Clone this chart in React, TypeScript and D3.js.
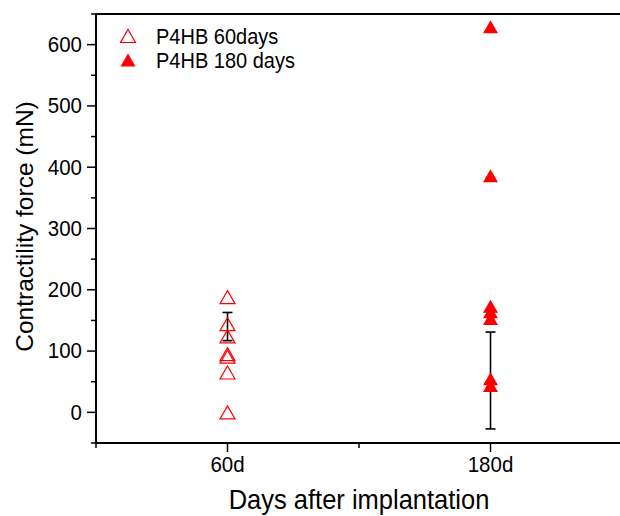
import React from 'react'
import * as d3 from 'd3'

// categories and values
const categories = ['60d', '180d']
const positions = [1, 2]
const values60 = [188, 144, 124, 95, 91, 65, 0]
const values180 = [629, 386, 173, 164, 153, 55, 44]
const means = [140, 52]
const errors = [23, 79]
const yMajorTicks = [0, 100, 200, 300, 400, 500, 600]
const yMinorTicks = [-50, 50, 150, 250, 350, 450, 550, 650]
const xMinorTicks = [0.5, 1.5, 2.5]
const legendLabels = ['P4HB 60days', 'P4HB 180 days']

const width = 620
const height = 516
const margin = { top: 14, left: 96, bottom: 73, right: -2 }
const font = 'Arial, "Liberation Sans", sans-serif'
const stretch = 1.1 // glyphs in the source are a bit taller than wide

// triangle centred on its bounding box, w x h px
const tri = (w: number, h: number) => `M0,${-h / 2}L${w / 2},${h / 2}L${-w / 2},${h / 2}Z`

const Label = ({ x, y, anchor = 'start', size, children }: any) => (
  <g transform={`translate(${x},${y}) scale(1,${stretch})`}>
    <text textAnchor={anchor} dominantBaseline="central" fontFamily={font} fontSize={size}>{children}</text>
  </g>
)

export default function App() {
  const x = d3.scaleLinear().domain([0.5, 2.5]).range([margin.left, width - margin.right])
  const y = d3.scaleLinear().domain([-50, 650]).range([height - margin.bottom, margin.top])
  const x0 = x(0.5)
  const y0 = y(-50)
  const marker = tri(15, 13)

  return (
    <svg width={width} height={height} style={{ position: 'absolute', left: 0, top: 0, background: '#fff' }}>
      {/* frame */}
      <line x1={x0} x2={width + 5} y1={y(650)} y2={y(650)} stroke="#000" strokeWidth={2} />
      <line x1={x0} x2={x0} y1={y(650) - 1} y2={y0 + 1} stroke="#000" strokeWidth={2} />
      <line x1={x0} x2={width + 5} y1={y0} y2={y0} stroke="#000" strokeWidth={2} />

      {/* y ticks */}
      {yMajorTicks.map(t => (
        <g key={'ym' + t}>
          <line x1={x0 - 9} x2={x0} y1={y(t)} y2={y(t)} stroke="#000" strokeWidth={1.5} />
          <Label x={x0 - 14} y={y(t)} anchor="end" size={20.5}>{t}</Label>
        </g>
      ))}
      {yMinorTicks.map(t => (
        <line key={'yn' + t} x1={x0 - 5} x2={x0} y1={y(t)} y2={y(t)} stroke="#000" strokeWidth={1.5} />
      ))}

      {/* x ticks */}
      {positions.map((p, i) => (
        <g key={'xm' + p}>
          <line x1={x(p)} x2={x(p)} y1={y0} y2={y0 + 9} stroke="#000" strokeWidth={1.5} />
          <Label x={x(p)} y={y0 + 22} anchor="middle" size={20.5}>{categories[i]}</Label>
        </g>
      ))}
      {xMinorTicks.map(t => (
        <line key={'xn' + t} x1={x(t)} x2={x(t)} y1={y0} y2={y0 + 5} stroke="#000" strokeWidth={1.5} />
      ))}

      {/* axis titles */}
      <Label x={(x(1) + x(2)) / 2} y={500} anchor="middle" size={25.5}>Days after implantation</Label>
      <text transform={`translate(33,${y(300) - 2}) rotate(-90)`} textAnchor="middle"
        fontFamily={font} fontSize={24.5}>Contractility force (mN)</text>

      {/* error bars */}
      {positions.map((p, i) => {
        const lo = y(means[i] - errors[i])
        const hi = y(means[i] + errors[i])
        return (
          <g key={'e' + p} stroke="#000" strokeWidth={1.6}>
            <line x1={x(p)} x2={x(p)} y1={lo} y2={hi} />
            <line x1={x(p) - 5} x2={x(p) + 5} y1={lo} y2={lo} />
            <line x1={x(p) - 5} x2={x(p) + 5} y1={hi} y2={hi} />
          </g>
        )
      })}

      {/* points */}
      {values60.map((v, i) => (
        <path key={'a' + i} d={marker} transform={`translate(${x(1)},${y(v)})`}
          fill="none" stroke="#ff0000" strokeWidth={1.2} />
      ))}
      {values180.map((v, i) => (
        <path key={'b' + i} d={marker} transform={`translate(${x(2)},${y(v)})`} fill="#ff0000" />
      ))}

      {/* legend */}
      <path d={marker} transform="translate(128,36)" fill="none" stroke="#ff0000" strokeWidth={1.2} />
      <Label x={156} y={36} size={20}>{legendLabels[0]}</Label>
      <path d={marker} transform="translate(128,60)" fill="#ff0000" />
      <Label x={156} y={60} size={20}>{legendLabels[1]}</Label>
    </svg>
  )
}
